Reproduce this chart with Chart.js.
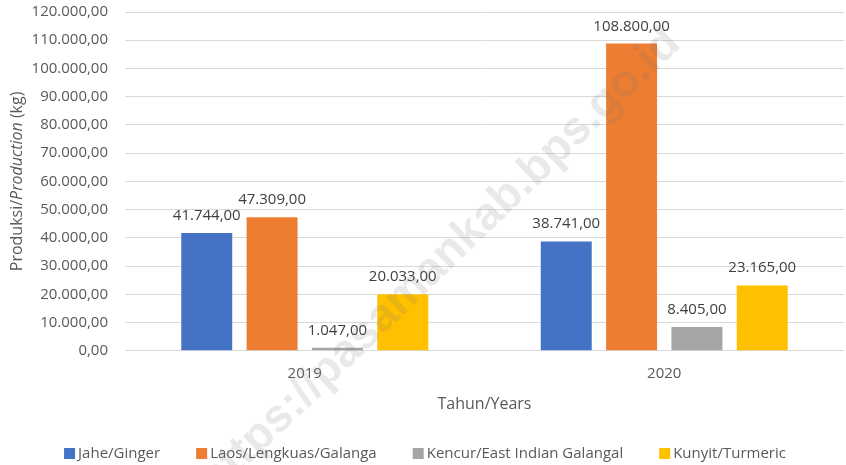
<!DOCTYPE html>
<html>
<head>
<meta charset="utf-8">
<script src="https://cdn.jsdelivr.net/npm/chart.js@4.4.1/dist/chart.umd.min.js"></script>
<style>
  html, body { margin: 0; padding: 0; background: #fff; }
  #wrap { width: 846px; height: 465px; }
</style>
</head>
<body>
<div id="wrap"><canvas id="chart" width="846" height="465"></canvas></div>
<script>
// Data
const years = ['2019', '2020'];
const seriesNames = ['Jahe/Ginger', 'Laos/Lengkuas/Galanga', 'Kencur/East Indian Galangal', 'Kunyit/Turmeric'];
const jahe = [41744, 38741];
const laos = [47309, 108800];
const kencur = [1047, 8405];
const kunyit = [20033, 23165];
const colors = ['#4472C4', '#ED7D31', '#A5A5A5', '#FFC000'];

const FONT = "'Open Sans', 'Noto Sans', sans-serif";
const TEXT = '#595959';

// 120000 -> "120.000,00"
function fmt(v) {
  const parts = Math.round(v).toString().replace(/\B(?=(\d{3})+(?!\d))/g, '.');
  return parts + ',00';
}

// labels above each bar
const barLabels = {
  id: 'barLabels',
  afterDatasetsDraw(chart) {
    const ctx = chart.ctx;
    ctx.save();
    ctx.font = '15px ' + FONT;
    ctx.fillStyle = '#404040';
    ctx.textAlign = 'center';
    ctx.textBaseline = 'alphabetic';
    chart.data.datasets.forEach((ds, i) => {
      chart.getDatasetMeta(i).data.forEach((bar, j) => {
        ctx.fillText(fmt(ds.data[j]), bar.x, bar.y - 13);
      });
    });
    ctx.restore();
  }
};

// y title with italic part, custom legend, watermark
const extras = {
  id: 'extras',
  afterDraw(chart) {
    const ctx = chart.ctx;
    const area = chart.chartArea;

    // y axis title
    ctx.save();
    ctx.translate(22, (area.top + area.bottom) / 2);
    ctx.rotate(-Math.PI / 2);
    ctx.fillStyle = TEXT;
    ctx.textBaseline = 'alphabetic';
    const parts = [
      ['Produksi/', 'normal'],
      ['Production', 'italic'],
      [' (kg)', 'normal']
    ];
    let total = 0;
    parts.forEach(p => { ctx.font = p[1] + ' 16px ' + FONT; total += ctx.measureText(p[0]).width; });
    let x = -total / 2;
    parts.forEach(p => {
      ctx.font = p[1] + ' 16px ' + FONT;
      ctx.fillText(p[0], x, 0);
      x += ctx.measureText(p[0]).width;
    });
    ctx.restore();

    // legend
    ctx.save();
    ctx.font = '15px ' + FONT;
    ctx.textBaseline = 'middle';
    const box = 11, gapText = 3, gapItem = 36;
    const widths = seriesNames.map(n => ctx.measureText(n).width);
    let lw = widths.reduce((a, w) => a + box + gapText + w, 0) + gapItem * (seriesNames.length - 1);
    let lx = chart.width / 2 + 2 - lw / 2;
    const ly = 454;
    seriesNames.forEach((n, i) => {
      ctx.fillStyle = colors[i];
      ctx.fillRect(lx, ly - 6, box, box);
      ctx.fillStyle = TEXT;
      ctx.fillText(n, lx + box + gapText, ly);
      lx += box + gapText + widths[i] + gapItem;
    });
    ctx.restore();

    // watermark
    ctx.save();
    ctx.translate(440, 262);
    ctx.rotate(-44 * Math.PI / 180);
    ctx.font = "bold 46px 'Liberation Sans', Arial, sans-serif";
    ctx.fillStyle = 'rgba(120,120,120,0.16)';
    ctx.textAlign = 'center';
    ctx.textBaseline = 'middle';
    ctx.fillText('https://pasamankab.bps.go.id', 0, 0);
    ctx.restore();
  }
};

const datasets = [jahe, laos, kencur, kunyit].map((vals, i) => ({
  label: seriesNames[i],
  data: vals,
  backgroundColor: colors[i],
  borderWidth: 0,
  barPercentage: 0.78,
  categoryPercentage: 0.727
}));

new Chart(document.getElementById('chart'), {
  type: 'bar',
  data: { labels: years, datasets: datasets },
  options: {
    responsive: false,
    animation: false,
    layout: { padding: { top: 12, right: 2, bottom: 47, left: 0 } },
    plugins: {
      legend: { display: false },
      tooltip: { enabled: false }
    },
    scales: {
      x: {
        grid: { display: false, drawTicks: false },
        border: { display: false },
        ticks: { color: TEXT, font: { family: FONT, size: 15 }, padding: 14 },
        title: {
          display: true,
          text: 'Tahun/Years',
          color: TEXT,
          font: { family: FONT, size: 16 },
          padding: { top: -2, bottom: 4 }
        }
      },
      y: {
        min: 0,
        max: 120000,
        afterFit: (s) => { s.width = 125; s.paddingTop = 0; s.paddingBottom = 0; },
        grid: { color: '#d9d9d9', lineWidth: 1, drawTicks: false },
        border: { display: false },
        ticks: {
          stepSize: 10000,
          color: TEXT,
          font: { family: FONT, size: 15 },
          padding: 17,
          callback: (v) => fmt(v)
        }
      }
    }
  },
  plugins: [barLabels, extras]
});
</script>
</body>
</html>
